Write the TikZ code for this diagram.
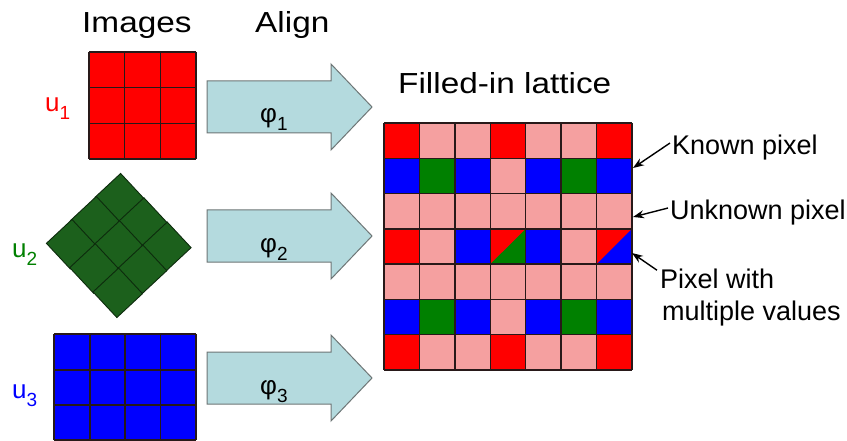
\documentclass[tikz,border=0pt]{standalone}
\usepackage{fontspec}
\setmainfont{Liberation Sans}
\newfontfamily\titlefont{Liberation Sans}[FakeStretch=1.15]
\usetikzlibrary{calc,arrows.meta}
\definecolor{cR}{RGB}{255,0,0}
\definecolor{cP}{RGB}{245,160,160}
\definecolor{cB}{RGB}{0,0,255}
\definecolor{cG}{RGB}{0,128,0}
\definecolor{dG}{RGB}{28,96,28}
\definecolor{arrowfill}{RGB}{180,218,222}
\definecolor{arrowline}{RGB}{110,118,118}
\definecolor{gridline}{RGB}{40,25,25}
\newcommand\subnum[1]{\raisebox{-8pt}{\fontsize{19}{19}\selectfont #1}}
\begin{document}
\begin{tikzpicture}[x=1pt,y=-1pt,
  title/.style={inner sep=0, anchor=base west, font=\titlefont\fontsize{29}{34}\selectfont},
  note/.style={inner sep=0, anchor=base west, font=\fontsize{27}{32}\selectfont},
  ulab/.style={inner sep=0, anchor=base west, font=\fontsize{26}{30}\selectfont},
  philab/.style={inner sep=0, anchor=base west, font=\fontsize{26}{30}\selectfont},
  gline/.style={draw=gridline, line width=1.5pt},
  tile/.style={draw=black!55!dG, fill=dG, line width=0.9pt, minimum size=35pt, inner sep=0, rotate=43},
  bigarrow/.style={fill=arrowfill, draw=arrowline, line width=1pt, line join=miter},
  pointer/.style={-{Stealth[length=11pt,width=8pt]}, line width=1.4pt}
]
\useasboundingbox (0,0) rectangle (847,441);
\fill[white] (0,0) rectangle (847,441);

% titles
\node[title] (images) at (82,33) {Images};
\node[title] (align) at (255,33) {Align};
\node[title] (filled) at (398,94) {Filled-in lattice};

% u1 red grid
\fill[cR] (89,52) rectangle (196,159);
\foreach \i in {0,1,2,3} {
  \draw[gline] (89+\i*35.67,52) -- (89+\i*35.67,159);
  \draw[gline] (89,52+\i*35.67) -- (196,52+\i*35.67);
}
\node[ulab, text=cR] (u1) at (45,112) {u\subnum{1}};

% u2 rotated green grid
\foreach \i in {0,1,2}
  \foreach \j in {0,1,2} {
    \pgfmathsetmacro\cx{118.75+(\i-1)*23.3-(\j-1)*24.3}
    \pgfmathsetmacro\cy{245.5+(\i-1)*24.3+(\j-1)*23}
    \node[tile] (g\i\j) at (\cx,\cy) {};
  }
\node[ulab, text=cG] (u2) at (12,258) {u\subnum{2}};

% u3 blue grid
\fill[cB] (54,334) rectangle (196,440.2);
\foreach \x in {54,90,125,160.5,196}
  \draw[gline] (\x,334) -- (\x,440.2);
\foreach \y in {334,370,405,440.2}
  \draw[gline] (54,\y) -- (196,\y);
\node[ulab, text=cB] (u3) at (12,398) {u\subnum{3}};

% big arrows
\foreach \c/\k in {107/1,236/2,378/3} {
  \draw[bigarrow] (207,\c-26) -- (331,\c-26) -- (331,\c-43) -- (372,\c)
     -- (331,\c+43) -- (331,\c+26) -- (207,\c+26) -- cycle;
  \node[philab] (phi\k) at (260,\c+16) {φ\subnum{\k}};
}

% lattice
\def\W{35.43}
\def\H{35.29}
\foreach \row [count=\r from 0] in {{R,P,P,R,P,P,R},{B,G,B,P,B,G,B},{P,P,P,P,P,P,P},{R,P,B,R,B,P,R},{P,P,P,P,P,P,P},{B,G,B,P,B,G,B},{R,P,P,R,P,P,R}}
  \foreach \c [count=\k from 0] in \row
    \fill[c\c] (384+\k*\W, 123+\r*\H) rectangle ++(\W,\H);
% split cells
\foreach \k/\col in {3/cG,6/cB} {
  \fill[cR] (384+\k*\W, 123+3*\H) -- ++(\W,0) -- ++(-\W,\H) -- cycle;
  \fill[\col] (384+\k*\W+\W, 123+3*\H) -- ++(0,\H) -- ++(-\W,0) -- cycle;
}
\foreach \i in {0,...,7} {
  \draw[gline] (384+\i*\W,123) -- (384+\i*\W,123+7*\H);
  \draw[gline] (384,123+\i*\H) -- (384+7*\W,123+\i*\H);
}

% annotations
\node[note] (known) at (672,155) {Known pixel};
\node[note] (unknown) at (670,220) {Unknown pixel};
\node[note] (multi) at (660,288) {Pixel with};
\node[note] (multi2) at (662,320) {multiple values};
\coordinate (knownTip) at (633,168);
\coordinate (unknownTip) at (633,217);
\coordinate (multiTip) at (632,253);
\draw[pointer] ([shift={(-2,-5)}]known.west) -- (knownTip);
\draw[pointer] ([shift={(-2,-5)}]unknown.west) -- (unknownTip);
\draw[pointer] ([shift={(-3,2)}]multi.north west) -- (multiTip);
\end{tikzpicture}
\end{document}
